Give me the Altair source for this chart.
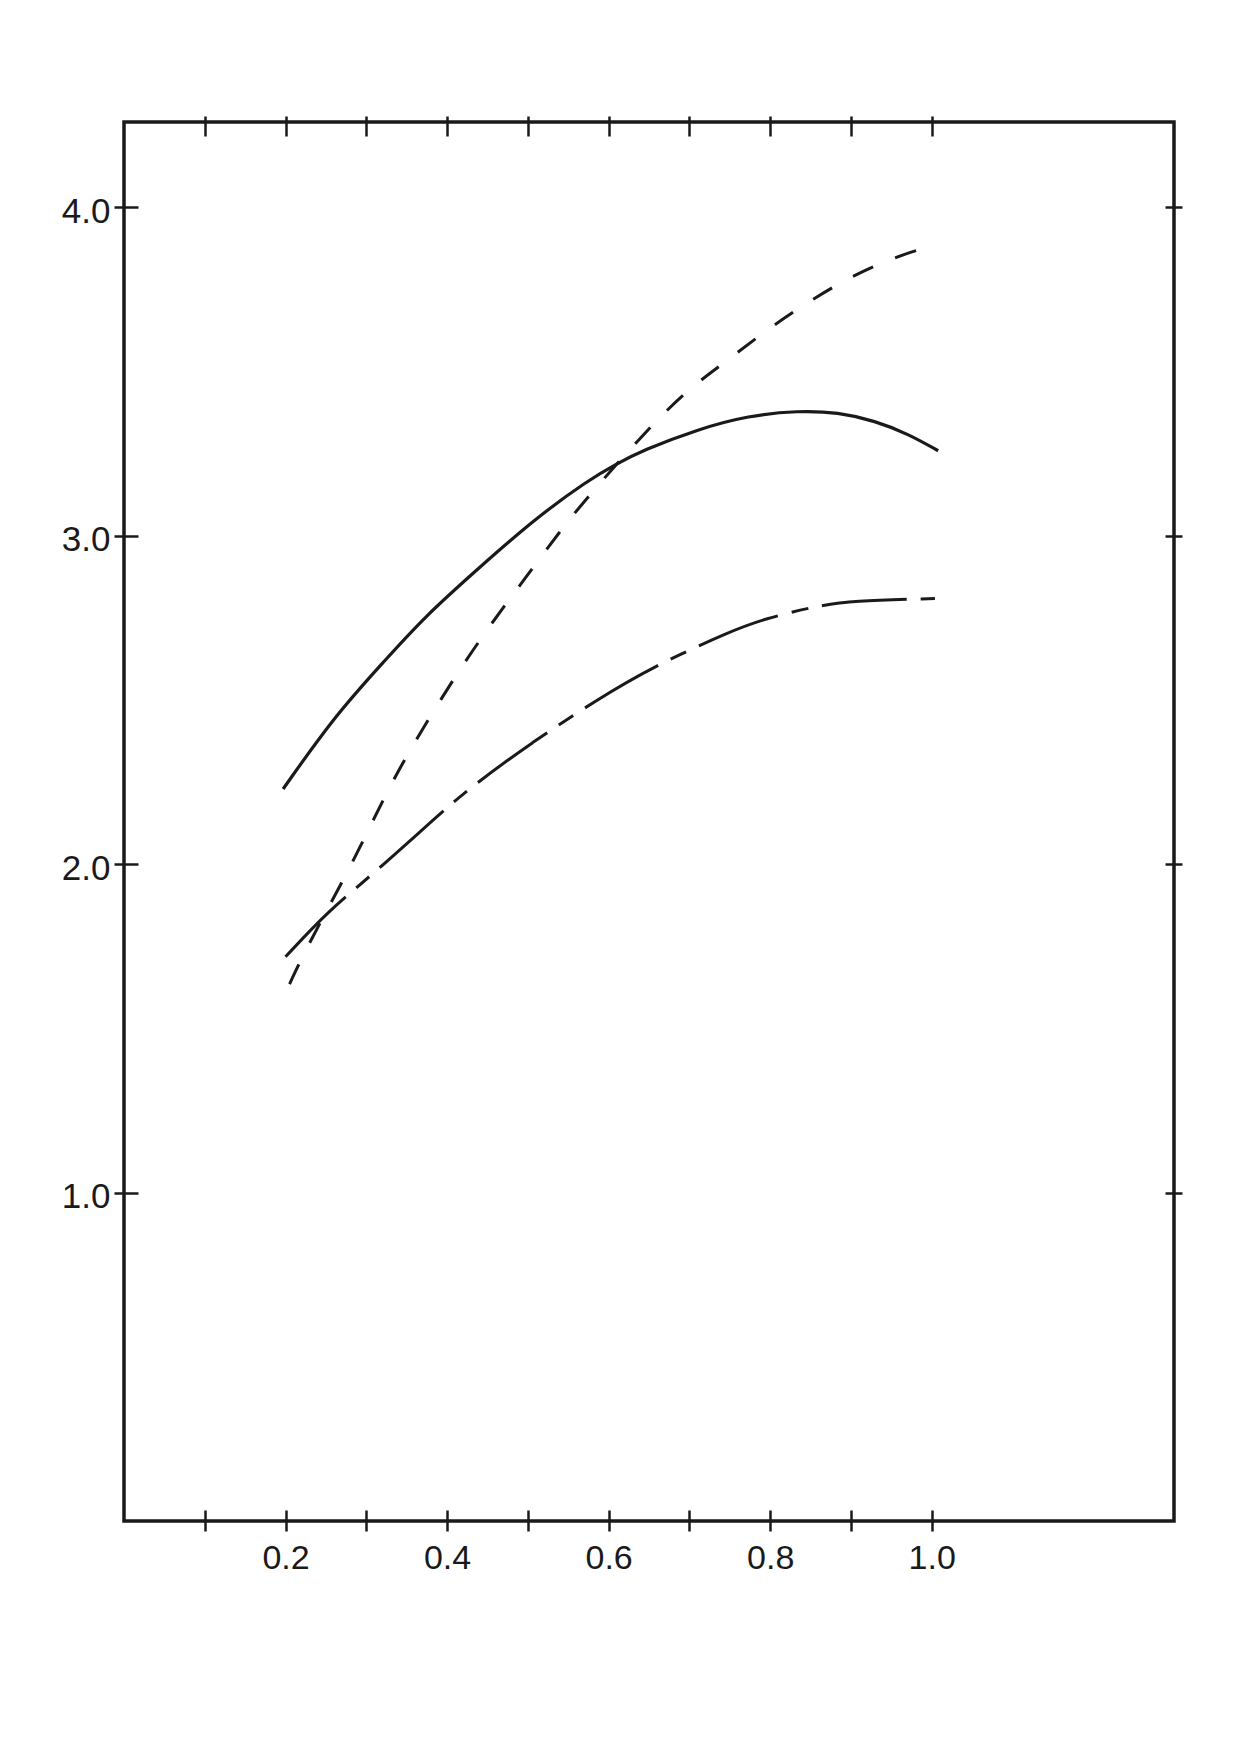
import altair as alt
import pandas as pd

# ---- data ----
x_solid = [0.197, 0.261, 0.323, 0.371, 0.443, 0.509, 0.575, 0.610, 0.641, 0.711, 0.773, 0.835, 0.884, 0.930, 0.971, 1.008]
y_solid = [2.229, 2.452, 2.620, 2.751, 2.910, 3.052, 3.170, 3.219, 3.259, 3.325, 3.366, 3.381, 3.376, 3.350, 3.310, 3.259]

x_dash = [0.205, 0.224, 0.278, 0.306, 0.339, 0.377, 0.420, 0.459, 0.496, 0.540, 0.577, 0.645, 0.696, 0.744, 0.800, 0.857, 0.913, 0.971, 1.002]
y_dash = [1.635, 1.737, 1.980, 2.122, 2.285, 2.442, 2.610, 2.747, 2.868, 3.015, 3.127, 3.315, 3.442, 3.528, 3.635, 3.728, 3.807, 3.863, 3.883]

x_dashdot = [0.200, 0.253, 0.306, 0.377, 0.426, 0.505, 0.587, 0.653, 0.752, 0.793, 0.855, 0.901, 1.004]
y_dashdot = [1.718, 1.858, 1.965, 2.122, 2.229, 2.371, 2.503, 2.599, 2.711, 2.747, 2.785, 2.802, 2.809]

x_ticks = [0.1, 0.2, 0.3, 0.4, 0.5, 0.6, 0.7, 0.8, 0.9, 1.0]
y_ticks = [1.0, 2.0, 3.0, 4.0]

x_domain = [0, 1.3]
y_domain = [0, 4.26]

INK = "#1a1a1a"
FONT = "Liberation Sans"

df_solid = pd.DataFrame({"x": x_solid, "y": y_solid})
df_dash = pd.DataFrame({"x": x_dash, "y": y_dash})
df_dd = pd.DataFrame({"x": x_dashdot, "y": y_dashdot})

xs = alt.Scale(domain=x_domain, nice=False, zero=False)
ys = alt.Scale(domain=y_domain, nice=False, zero=False)


def xaxis(**kw):
    base = dict(title=None, values=x_ticks, grid=False, domain=False,
                tickColor=INK, tickWidth=2.5, labelOverlap=False)
    base.update(kw)
    return alt.Axis(**base)


def yaxis(**kw):
    base = dict(title=None, values=y_ticks, grid=False, domain=False,
                tickColor=INK, tickWidth=2.5, labelOverlap=False)
    base.update(kw)
    return alt.Axis(**base)


# solid line + labelled bottom/left axes (outer tick halves)
solid = alt.Chart(df_solid).mark_line(
    color=INK, strokeWidth=3.2, interpolate="basis"
).encode(
    x=alt.X("x:Q", scale=xs, axis=xaxis(
        orient="bottom", tickSize=10,
        labelExpr="round(datum.value*10) % 2 == 0 ? format(datum.value, '.1f') : ''",
        labelFont=FONT, labelFontSize=34, labelColor=INK, labelPadding=10)),
    y=alt.Y("y:Q", scale=ys, axis=yaxis(
        orient="left", tickSize=10, format=".1f",
        labelFont=FONT, labelFontSize=35, labelColor=INK, labelPadding=4,
        labelOffset=4)),
)

# dashed line + inner halves of bottom/left ticks
dashed = alt.Chart(df_dash).mark_line(
    color=INK, strokeWidth=3, interpolate="basis", strokeDash=[22, 24]
).encode(
    x=alt.X("x:Q", scale=xs, axis=xaxis(orient="bottom", offset=-11, tickSize=11, labels=False)),
    y=alt.Y("y:Q", scale=ys, axis=yaxis(orient="left", offset=-14, tickSize=14, labels=False)),
)

# dash-dot line + outer halves of top/right ticks
dashdot = alt.Chart(df_dd).mark_line(
    color=INK, strokeWidth=3, interpolate="basis", strokeDash=[85, 14, 17, 14]
).encode(
    x=alt.X("x:Q", scale=xs, axis=xaxis(orient="top", tickSize=6, labels=False)),
    y=alt.Y("y:Q", scale=ys, axis=yaxis(orient="right", tickSize=8, labels=False)),
)

# invisible carrier for the inner halves of top/right ticks
carrier = alt.Chart(df_solid).mark_line(strokeOpacity=0).encode(
    x=alt.X("x:Q", scale=xs, axis=xaxis(orient="top", offset=-14, tickSize=14, labels=False)),
    y=alt.Y("y:Q", scale=ys, axis=yaxis(orient="right", offset=-9, tickSize=9, labels=False)),
)

chart = alt.layer(solid, dashed, dashdot, carrier).resolve_axis(
    x="independent", y="independent"
).properties(
    width=1050,
    height=1399,
    autosize=alt.AutoSizeParams(type="none"),
    padding={"left": 116, "top": 114, "right": 50, "bottom": 90},
    background="white",
).configure_view(
    stroke=INK, strokeWidth=3.5
)

chart.save("out.html", embed_options={"renderer": "svg", "actions": False})
